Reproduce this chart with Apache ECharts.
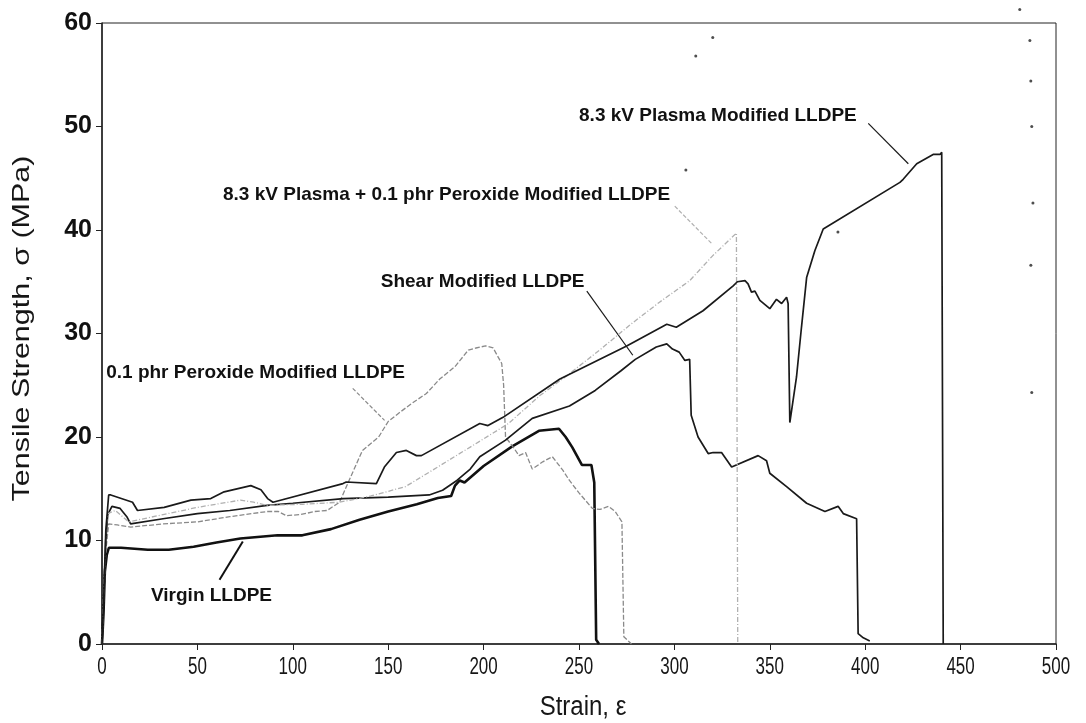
<!DOCTYPE html>
<html>
<head>
<meta charset="utf-8">
<script src="https://cdn.jsdelivr.net/npm/echarts/dist/echarts.min.js"></script>
<style>
  html, body { margin: 0; padding: 0; background: #ffffff; }
  #chart { width: 1086px; height: 723px; }
</style>
</head>
<body>
<div id="chart"></div>
<script>
// Stress–strain curves of LLDPE samples: [strain, tensile strength (MPa)]
const virginLLDPE = [
  [0, 0], [0.8, 3], [1.5, 7], [2.5, 8.6], [3.6, 9.3], [10, 9.3], [24, 9.1], [35, 9.1],
  [48, 9.4], [60, 9.8], [72.5, 10.2], [92, 10.5], [105, 10.5], [120, 11.1], [135, 12],
  [150, 12.8], [165, 13.5], [176, 14.1], [183, 14.3], [185, 15.3], [187.5, 15.8],
  [190, 15.6], [200, 17.2], [215, 19.1], [229, 20.6], [239.5, 20.8], [243, 20.0],
  [246.5, 19.0], [251.5, 17.3], [256.5, 17.3], [258, 15.6], [259, 0.4], [260.5, 0]
];

const peroxideLLDPE = [
  [0, 0], [1, 5], [2, 9], [3.5, 11.6], [8, 11.5], [15, 11.3], [32, 11.6], [50, 11.8],
  [67, 12.3], [86.5, 12.8], [92.5, 12.8], [96.5, 12.4], [104, 12.5], [111.5, 12.8],
  [118, 12.9], [124.5, 13.7], [129.5, 15.8], [136.5, 18.7], [145, 20], [150, 21.5],
  [155.5, 22.3], [162, 23.2], [170, 24.2], [177, 25.6], [185, 26.8], [192, 28.4],
  [196, 28.6], [201, 28.8], [205, 28.6], [209.5, 27.1], [210.5, 25], [211.5, 20],
  [216, 18.9], [218.5, 18.2], [222, 18.5], [225.5, 16.9], [231, 17.6], [236, 18.1],
  [241.5, 16.8], [245, 15.8], [250, 14.6], [257, 13.1], [261, 13.0], [265.5, 13.3],
  [269, 12.8], [272.5, 11.8], [273.5, 0.7], [277.5, 0]
];

const plasmaPeroxideLLDPE = [
  [0, 0], [1, 6], [2, 11], [3, 12.6], [7, 12.9], [14, 11.8], [32, 12.5], [50, 13.2],
  [72.5, 13.9], [79.5, 13.7], [86.5, 13.4], [105, 13.5], [124.5, 13.7], [141, 14.3],
  [159, 15.2], [171.5, 16.6], [191, 18.8], [213, 21.3], [229.5, 24.0], [243.5, 25.9],
  [261.5, 28.5], [276.5, 30.8], [292, 33.0], [308, 35.1], [320, 37.5], [332.5, 39.7],
  [333.2, 0]
];

const shearLLDPE = [
  [0, 0], [1, 5], [2, 10], [3, 12.5], [5.2, 13.3], [9.5, 13.1], [13, 12.3], [15, 11.6],
  [32, 12.1], [50, 12.6], [67, 12.9], [86.5, 13.4], [100, 13.6], [126.5, 14.05],
  [150, 14.2], [171.5, 14.4], [178.5, 14.85], [186, 15.8], [193, 16.9], [198, 18.1],
  [211.5, 19.7], [225.5, 21.8], [245, 23.0], [258.5, 24.5], [272, 26.4], [279.5, 27.5],
  [290.5, 28.7], [296, 29.0], [299, 28.5], [302.5, 28.2], [305.5, 27.4], [308, 27.5],
  [308.8, 22.1], [312.4, 20.0], [317.7, 18.4], [320.3, 18.5], [324.7, 18.5], [330, 17.1],
  [343.9, 18.2], [348.3, 17.7], [350, 16.5], [358.8, 15.2], [369.3, 13.6], [378.9, 12.8],
  [385.8, 13.3], [388.5, 12.6], [395.5, 12.1], [396.3, 1.0], [399, 0.6], [402.4, 0.3]
];

const plasmaLLDPE = [
  [0, 0], [1, 5], [2, 11], [3.5, 14.4], [4.6, 14.4], [16, 13.7], [18.6, 12.9],
  [32.6, 13.2], [46.6, 13.9], [57, 14.05], [64, 14.7], [78, 15.3], [83.3, 14.9],
  [86.8, 14.05], [89.6, 13.7], [126.3, 15.5], [128, 15.65], [143.8, 15.5], [148, 17.1],
  [154.3, 18.5], [159.5, 18.7], [164.8, 18.2], [167.4, 18.2], [198, 21.3], [202.3, 21.1],
  [210.2, 21.9], [240, 25.6], [275, 28.8], [296, 30.9], [301, 30.6], [315, 32.2],
  [330.8, 34.6], [333, 35.0], [337, 35.1], [338.6, 34.8], [340.4, 34.0], [342.2, 34.1],
  [344.8, 33.2], [350, 32.4], [353.5, 33.3], [356.2, 32.9], [358.8, 33.5], [359.6, 32.9],
  [360.5, 21.4], [361.4, 21.4], [364, 25.8], [366.6, 30.6], [369.3, 35.4], [373.6, 38.0],
  [378, 40.1], [418.2, 44.6], [419.9, 44.9], [427, 46.4], [435.6, 47.3], [439.2, 47.3],
  [440.1, 47.5], [440.9, 0]
];

// isolated specks printed on the plot
const strayPoints = [
  [311.2, 56.8], [320.1, 58.6], [306, 45.8], [385.7, 39.8], [481, 61.3], [486.3, 58.3],
  [486.8, 54.4], [487.3, 50], [487.9, 42.6], [486.8, 36.6], [487.3, 24.3]
];

// curve captions: text, centre [strain, stress], leader line from/to
const labelTexts = [
  'Virgin LLDPE',
  '0.1 phr Peroxide Modified LLDPE',
  'Shear Modified LLDPE',
  '8.3 kV Plasma + 0.1 phr Peroxide Modified LLDPE',
  '8.3 kV Plasma Modified LLDPE'
];
const labelCentres = [[57.4, 4.7], [80.5, 26.2], [199.5, 35.0], [180.6, 43.4], [322.8, 51.0]];
const leaderFrom = [[61.6, 6.2], [131.4, 24.7], [254.1, 34.1], [300.2, 42.3], [401.6, 50.3]];
const leaderTo = [[73.8, 9.9], [148.1, 21.6], [278.2, 27.9], [319.5, 38.7], [422.6, 46.4]];

// axis ticks and titles
const xTickValues = [0, 50, 100, 150, 200, 250, 300, 350, 400, 450, 500];
const yTickValues = [0, 10, 20, 30, 40, 50, 60];
const xTitle = 'Strain, ε';
const yTitle = 'Tensile Strength, σ (MPa)';

const curveData = [virginLLDPE, peroxideLLDPE, shearLLDPE, plasmaPeroxideLLDPE, plasmaLLDPE];
const curveStyles = [
  { color: '#111', width: 2.6, type: 'solid' },
  { color: '#8a8a8a', width: 1.3, type: [5, 2] },
  { color: '#1a1a1a', width: 1.7, type: 'solid' },
  { color: '#b0b0b0', width: 1.3, type: [5, 2, 1, 2] },
  { color: '#1a1a1a', width: 1.7, type: 'solid' }
];

const chart = echarts.init(document.getElementById('chart'), null, { renderer: 'canvas' });

const series = curveData.map((d, i) => ({
  name: labelTexts[i],
  type: 'line',
  data: d,
  symbol: 'none',
  showSymbol: false,
  animation: false,
  lineStyle: curveStyles[i],
  z: 3 + i,
  markLine: {
    silent: true,
    symbol: ['none', 'none'],
    animation: false,
    label: { show: false },
    lineStyle: { color: curveStyles[i].color, width: i === 0 ? 2 : 1.2, type: curveStyles[i].type === 'solid' ? 'solid' : [4, 2] },
    data: [[{ coord: leaderFrom[i] }, { coord: leaderTo[i] }]]
  },
  markPoint: {
    silent: true,
    animation: false,
    symbol: 'circle',
    symbolSize: 0,
    data: [{
      coord: labelCentres[i],
      label: {
        show: true,
        position: 'inside',
        formatter: labelTexts[i],
        color: '#111',
        fontFamily: 'Liberation Sans, Arial, sans-serif',
        fontWeight: 'bold',
        fontSize: 19
      }
    }]
  }
}));

series.push({
  type: 'scatter',
  data: strayPoints,
  symbol: 'circle',
  symbolSize: 3,
  clip: false,
  silent: true,
  animation: false,
  itemStyle: { color: '#222' }
});

chart.setOption({
  backgroundColor: '#ffffff',
  animation: false,
  grid: {
    left: 102, right: 30, top: 23, bottom: 79,
    show: true, borderColor: '#222', borderWidth: 1, backgroundColor: 'transparent'
  },
  xAxis: {
    type: 'value',
    min: xTickValues[0], max: xTickValues[xTickValues.length - 1],
    interval: xTickValues[1] - xTickValues[0],
    axisLine: { show: true, lineStyle: { color: '#222', width: 1.5 } },
    axisTick: { show: true, inside: false, length: 6, lineStyle: { color: '#222' } },
    splitLine: { show: false },
    axisLabel: { show: false }
  },
  yAxis: {
    type: 'value',
    min: yTickValues[0], max: yTickValues[yTickValues.length - 1],
    interval: yTickValues[1] - yTickValues[0],
    axisLine: { show: true, lineStyle: { color: '#222', width: 1.5 } },
    axisTick: { show: true, inside: false, length: 6, lineStyle: { color: '#222' } },
    splitLine: { show: false },
    axisLabel: { fontFamily: 'Liberation Sans, Arial, sans-serif', fontWeight: 'bold', fontSize: 25, color: '#111', margin: 10 }
  },
  series: series
});

// Strain-axis labels and both axis titles use a tall face,
// placed through the axis scales.
const origin = chart.convertToPixel({ xAxisIndex: 0, yAxisIndex: 0 }, [0, 0]);
const topLeft = chart.convertToPixel({ xAxisIndex: 0, yAxisIndex: 0 }, [0, yTickValues[yTickValues.length - 1]]);
const xEnd = chart.convertToPixel({ xAxisIndex: 0, yAxisIndex: 0 }, [xTickValues[xTickValues.length - 1], 0]);

const textStyle = (text, size) => ({
  text: text,
  fill: '#161616',
  font: size + 'px "Liberation Sans", Arial, sans-serif',
  textAlign: 'center', textVerticalAlign: 'middle',
  align: 'center', verticalAlign: 'middle'
});

const graphics = xTickValues.map(v => {
  const p = chart.convertToPixel({ xAxisIndex: 0, yAxisIndex: 0 }, [v, 0]);
  return {
    type: 'text', x: p[0], y: p[1] + 23, scaleX: 1, scaleY: 1.4,
    silent: true, style: textStyle(String(v), 17)
  };
});

graphics.push({
  type: 'text', x: (origin[0] + xEnd[0]) / 2 + 4, y: origin[1] + 63, scaleX: 1, scaleY: 1.15,
  silent: true, style: textStyle(xTitle, 24)
});

graphics.push({
  type: 'text', x: 22, y: (origin[1] + topLeft[1]) / 2 - 5, rotation: Math.PI / 2,
  scaleX: 1.27, scaleY: 1,
  silent: true, style: textStyle(yTitle, 24)
});

chart.setOption({ graphic: graphics });
</script>
</body>
</html>
